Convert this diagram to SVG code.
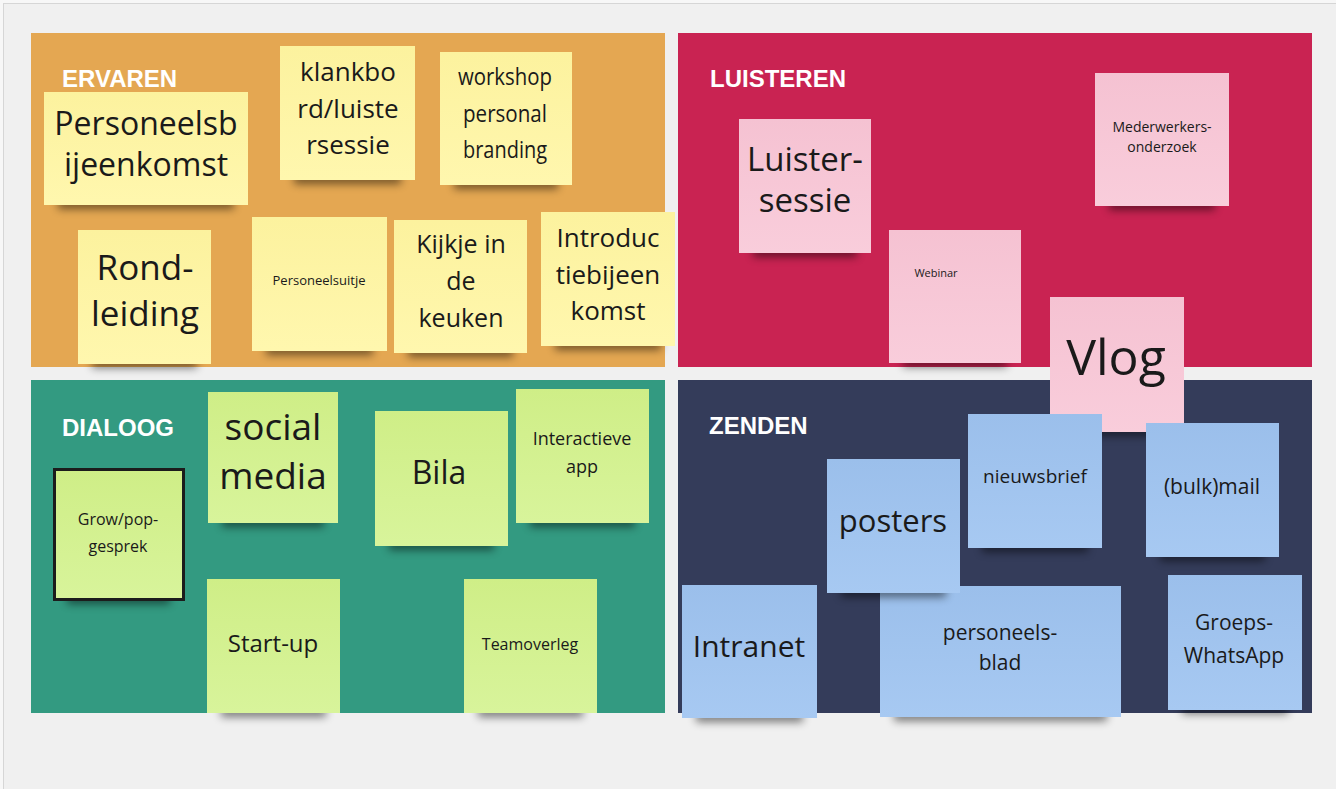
<svg xmlns="http://www.w3.org/2000/svg" width="1336" height="789" viewBox="0 0 1336 789">
<defs>
<linearGradient id="gy" x1="0" y1="0" x2="0" y2="1"><stop offset="0" stop-color="#FCF29E"/><stop offset="1" stop-color="#FFF7AE"/></linearGradient>
<linearGradient id="gp" x1="0" y1="0" x2="0" y2="1"><stop offset="0" stop-color="#F5C2D2"/><stop offset="1" stop-color="#F9CDDB"/></linearGradient>
<linearGradient id="gg" x1="0" y1="0" x2="0" y2="1"><stop offset="0" stop-color="#CFEE87"/><stop offset="1" stop-color="#D8F49B"/></linearGradient>
<linearGradient id="gb" x1="0" y1="0" x2="0" y2="1"><stop offset="0" stop-color="#9BBFEB"/><stop offset="1" stop-color="#A7C9F2"/></linearGradient>
<filter id="blur" x="-20%" y="-100%" width="140%" height="300%"><feGaussianBlur stdDeviation="4"/></filter>
</defs>
<style>
.sh{fill:#000;opacity:.5;filter:url(#blur)}
.y{fill:url(#gy)}.p{fill:url(#gp)}.g{fill:url(#gg)}.b{fill:url(#gb)}
.t{font-family:"Open Sans","Noto Sans","DejaVu Sans",sans-serif;fill:#1a1a1a;text-anchor:middle}
.lbl{font-family:"Liberation Sans",Arial,sans-serif;font-weight:bold;font-size:24px;fill:#fff}
</style>
<rect x="0" y="0" width="1336" height="789" fill="#F7F7F7"/>
<rect x="3.5" y="3.5" width="1340" height="790" fill="#F0F0F0" stroke="#D6D6D6" stroke-width="1"/>

<g id="quadrants">
<rect id="q-ervaren" x="31" y="33" width="634" height="334" fill="#E4A752"/>
<rect id="q-luisteren" x="678" y="33" width="634" height="334" fill="#C92352"/>
<rect id="q-dialoog" x="31" y="380" width="634" height="333" fill="#339A81"/>
<rect id="q-zenden" x="678" y="380" width="634" height="333" fill="#343C5A"/>
<text class="lbl" x="62" y="87">ERVAREN</text>
<text class="lbl" x="710" y="87">LUISTEREN</text>
<text class="lbl" x="62" y="436">DIALOOG</text>
<text class="lbl" x="709" y="434">ZENDEN</text>
</g>

<g id="connectors"></g>

<!-- ERVAREN -->
<g id="n-personeelsbijeenkomst">
<rect class="sh" x="58" y="199" width="176" height="10"/>
<rect class="y" x="44" y="92" width="204" height="113"/>
<text class="t" font-size="32" x="146" y="135">Personeelsb</text>
<text class="t" font-size="32" x="146" y="176">ijeenkomst</text>
</g>
<g id="n-klankbord">
<rect class="sh" x="294" y="174" width="107" height="10"/>
<rect class="y" x="280" y="46" width="135" height="134"/>
<text class="t" font-size="26" x="348" y="81">klankbo</text>
<text class="t" font-size="26" x="348" y="118">rd/luiste</text>
<text class="t" font-size="26" x="348" y="154">rsessie</text>
</g>
<g id="n-workshop">
<rect class="sh" x="454" y="179" width="104" height="10"/>
<rect class="y" x="440" y="52" width="132" height="133"/>
<text class="t" font-size="24" x="505" y="85" textLength="94" lengthAdjust="spacingAndGlyphs">workshop</text>
<text class="t" font-size="24" x="505" y="122" textLength="84" lengthAdjust="spacingAndGlyphs">personal</text>
<text class="t" font-size="24" x="505" y="158" textLength="84" lengthAdjust="spacingAndGlyphs">branding</text>
</g>
<g id="n-rondleiding">
<rect class="sh" x="92" y="358" width="105" height="10"/>
<rect class="y" x="78" y="230" width="133" height="134"/>
<text class="t" font-size="35" x="145" y="280">Rond-</text>
<text class="t" font-size="35" x="145" y="326">leiding</text>
</g>
<g id="n-personeelsuitje">
<rect class="sh" x="266" y="345" width="107" height="10"/>
<rect class="y" x="252" y="217" width="135" height="134"/>
<text class="t" font-size="13" x="319" y="285">Personeelsuitje</text>
</g>
<g id="n-kijkje">
<rect class="sh" x="408" y="347" width="105" height="10"/>
<rect class="y" x="394" y="220" width="133" height="133"/>
<text class="t" font-size="25" x="461" y="253">Kijkje in</text>
<text class="t" font-size="25" x="461" y="290">de</text>
<text class="t" font-size="25" x="461" y="327">keuken</text>
</g>
<g id="n-introductie">
<rect class="sh" x="555" y="340" width="106" height="10"/>
<rect class="y" x="541" y="212" width="134" height="134"/>
<text class="t" font-size="26" x="608" y="247">Introduc</text>
<text class="t" font-size="26" x="608" y="284">tiebijeen</text>
<text class="t" font-size="26" x="608" y="320">komst</text>
</g>

<!-- LUISTEREN -->
<g id="n-luistersessie">
<rect class="sh" x="753" y="247" width="104" height="10"/>
<rect class="p" x="739" y="119" width="132" height="134"/>
<text class="t" font-size="33" x="805" y="171">Luister-</text>
<text class="t" font-size="33" x="805" y="212">sessie</text>
</g>
<g id="n-medewerkersonderzoek">
<rect class="sh" x="1109" y="200" width="106" height="10"/>
<rect class="p" x="1095" y="73" width="134" height="133"/>
<text class="t" font-size="14" x="1162" y="132">Mederwerkers-</text>
<text class="t" font-size="14" x="1162" y="152">onderzoek</text>
</g>
<g id="n-webinar">
<rect class="sh" x="903" y="357" width="104" height="10"/>
<rect class="p" x="889" y="230" width="132" height="133"/>
<text class="t" font-size="11" x="936" y="277">Webinar</text>
</g>

<!-- DIALOOG -->
<g id="n-grow">
<rect class="sh" x="67" y="594" width="103" height="10"/>
<rect class="g" x="54.5" y="469.5" width="129" height="130" stroke="#1c1c1c" stroke-width="3"/>
<text class="t" font-size="16" x="118" y="525">Grow/pop-</text>
<text class="t" font-size="16" x="118" y="552">gesprek</text>
</g>
<g id="n-socialmedia">
<rect class="sh" x="222" y="517" width="102" height="10"/>
<rect class="g" x="208" y="392" width="130" height="131"/>
<text class="t" font-size="37" x="273" y="440">social</text>
<text class="t" font-size="37" x="273" y="489">media</text>
</g>
<g id="n-bila">
<rect class="sh" x="389" y="540" width="105" height="10"/>
<rect class="g" x="375" y="411" width="133" height="135"/>
<text class="t" font-size="32" x="439" y="484">Bila</text>
</g>
<g id="n-interactieve">
<rect class="sh" x="530" y="517" width="105" height="10"/>
<rect class="g" x="516" y="389" width="133" height="134"/>
<text class="t" font-size="18" x="582" y="445">Interactieve</text>
<text class="t" font-size="18" x="582" y="473">app</text>
</g>
<g id="n-startup">
<rect class="sh" x="221" y="707" width="105" height="10"/>
<rect class="g" x="207" y="579" width="133" height="134"/>
<text class="t" font-size="24" x="273" y="652">Start-up</text>
</g>
<g id="n-teamoverleg">
<rect class="sh" x="478" y="707" width="105" height="10"/>
<rect class="g" x="464" y="579" width="133" height="134"/>
<text class="t" font-size="16" x="530" y="650">Teamoverleg</text>
</g>

<!-- Vlog overlaps ZENDEN -->
<g id="n-vlog">
<rect class="sh" x="1064" y="426" width="106" height="10"/>
<rect class="p" x="1050" y="297" width="134" height="135"/>
<text class="t" font-size="50" x="1116" y="375">Vlog</text>
</g>

<!-- ZENDEN -->
<g id="n-personeelsblad">
<rect class="sh" x="894" y="711" width="213" height="10"/>
<rect class="b" x="880" y="586" width="241" height="131"/>
<text class="t" font-size="21" x="1000" y="640">personeels-</text>
<text class="t" font-size="21" x="1000" y="670">blad</text>
</g>
<g id="n-posters">
<rect class="sh" x="841" y="587" width="105" height="10"/>
<rect class="b" x="827" y="459" width="133" height="134"/>
<text class="t" font-size="31" x="893" y="532">posters</text>
</g>
<g id="n-nieuwsbrief">
<rect class="sh" x="982" y="542" width="106" height="10"/>
<rect class="b" x="968" y="414" width="134" height="134"/>
<text class="t" font-size="19" x="1035" y="483">nieuwsbrief</text>
</g>
<g id="n-bulkmail">
<rect class="sh" x="1160" y="551" width="105" height="10"/>
<rect class="b" x="1146" y="423" width="133" height="134"/>
<text class="t" font-size="21" x="1212" y="494">(bulk)mail</text>
</g>
<g id="n-intranet">
<rect class="sh" x="696" y="712" width="107" height="10"/>
<rect class="b" x="682" y="585" width="135" height="133"/>
<text class="t" font-size="30" x="749" y="657">Intranet</text>
</g>
<g id="n-groepswhatsapp">
<rect class="sh" x="1182" y="704" width="106" height="10"/>
<rect class="b" x="1168" y="575" width="134" height="135"/>
<text class="t" font-size="21" x="1234" y="630">Groeps-</text>
<text class="t" font-size="21" x="1234" y="663">WhatsApp</text>
</g>
</svg>
